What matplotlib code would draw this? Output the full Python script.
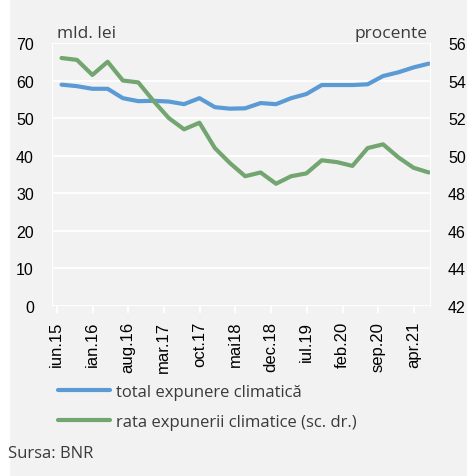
import numpy as np
import pandas as pd
import matplotlib
matplotlib.use("Agg")
import matplotlib.pyplot as plt

# quarterly data, end of quarter
dates = pd.date_range("2015-06-30", periods=25, freq="QE")

# total expunere climatica (mld. lei, left axis)
total_exp = [58.9, 58.5, 57.8, 57.8, 55.3, 54.5, 54.6, 54.4, 53.7, 55.3,
             52.9, 52.5, 52.6, 54.0, 53.7, 55.3, 56.4, 58.8, 58.8, 58.8,
             59.0, 61.2, 62.2, 63.5, 64.5]

# rata expunerii climatice (procente, right axis)
rata_exp = [55.2, 55.1, 54.3, 55.0, 54.0, 53.9, 52.9, 52.0, 51.4, 51.75,
            50.4, 49.6, 48.9, 49.1, 48.5, 48.9, 49.05, 49.75, 49.65, 49.45,
            50.4, 50.6, 49.9, 49.35, 49.1]

tick_dates = pd.date_range("2015-06-01", periods=11, freq="7MS")
tick_labels = ["iun.15", "ian.16", "aug.16", "mar.17", "oct.17", "mai18",
               "dec.18", "iul.19", "feb.20", "sep.20", "apr.21"]

bg = "#f2f2f2"
blue = "#5b9bd5"
green = "#72a56f"
txt = "#3a3a3a"
num_font = ["Liberation Sans", "DejaVu Sans"]
text_font = ["Open Sans", "DejaVu Sans"]

fig = plt.figure(figsize=(4.67, 4.77), dpi=100, facecolor=bg)
# white strip on the left like in the original
fig.patches.append(plt.Rectangle((0, 0), 9 / 467, 1, transform=fig.transFigure,
                                 color="white", zorder=0))

ax = fig.add_axes([52 / 467, 1 - 306.7 / 477, (430 - 52) / 467, (306.7 - 44) / 477])
ax.set_facecolor(bg)
ax2 = ax.twinx()

ax.plot(dates, total_exp, color=blue, lw=3, solid_capstyle="round", zorder=3)
ax2.plot(dates, rata_exp, color=green, lw=3, solid_capstyle="round", zorder=3)

ax.set_ylim(0, 70)
ax.set_yticks(range(0, 71, 10))
ax2.set_ylim(42, 56)
ax2.set_yticks(range(42, 57, 2))
ax.set_xlim(pd.Timestamp("2015-05-04"), pd.Timestamp("2021-07-07"))
ax.set_xticks(tick_dates)
ax.set_xticklabels(tick_labels, rotation=90, fontfamily=num_font, fontsize=12, color="black")

ax.grid(axis="y", color="white", lw=1.3)
ax.set_axisbelow(True)
for a in (ax, ax2):
    for s in a.spines.values():
        s.set_visible(False)
ax.spines["left"].set_visible(True)
ax.spines["left"].set_color("white")
ax2.spines["right"].set_visible(True)
ax2.spines["right"].set_color("white")

ax.tick_params(axis="x", length=5, color="white", width=1.3, pad=6)
ax.tick_params(axis="y", length=0, pad=13)
ax2.tick_params(axis="y", length=0, pad=13)
for lbl in ax.get_yticklabels() + ax2.get_yticklabels():
    lbl.set_fontfamily(num_font)
    lbl.set_fontsize(11.5)

fig.text(57 / 467, 1 - 38 / 477, "mld. lei", fontfamily=text_font, fontsize=12.5,
         color=txt, va="baseline", ha="left")
fig.text(428 / 467, 1 - 38 / 477, "procente", fontfamily=text_font, fontsize=12.5,
         color=txt, va="baseline", ha="right")

handles = [plt.Line2D([], [], color=blue, lw=3, solid_capstyle="round"),
           plt.Line2D([], [], color=green, lw=3, solid_capstyle="round")]
fig.legend(handles, ["total expunere climatică", "rata expunerii climatice (sc. dr.)"],
           loc="upper left", bbox_to_anchor=(58 / 467, 1 - 385 / 477),
           frameon=False, borderpad=0, borderaxespad=0, handlelength=3.1,
           handletextpad=0.4, labelspacing=0.85,
           prop={"family": text_font, "size": 12}, labelcolor=txt)

fig.text(8 / 467, 1 - 458 / 477, "Sursa: BNR", fontfamily=text_font, fontsize=12,
         color=txt, va="baseline", ha="left")

fig.savefig("out.png", dpi=100, facecolor=bg)
